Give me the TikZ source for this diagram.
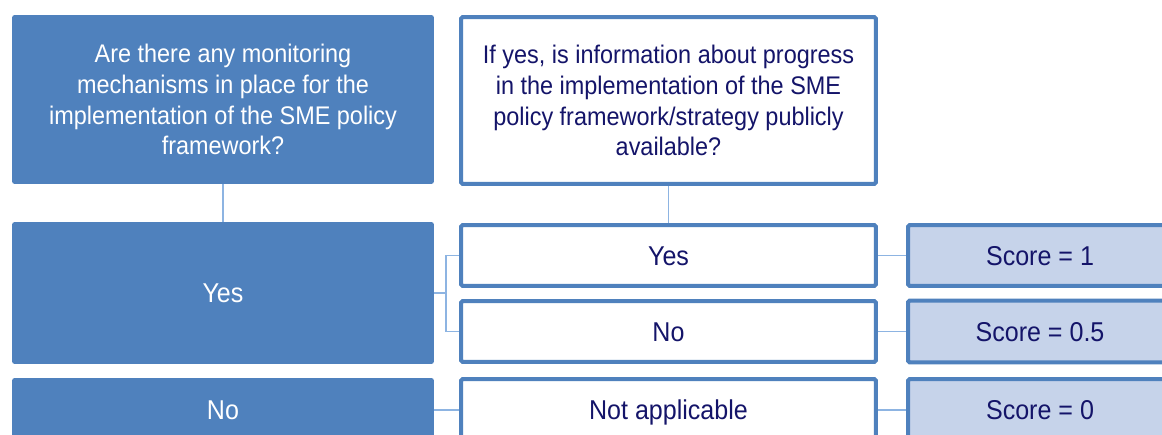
\documentclass[tikz,border=0pt]{standalone}
\usepackage{fontspec}
\setmainfont{Liberation Sans}[FakeStretch=0.92]
\definecolor{oecdblue}{RGB}{79,129,189}
\definecolor{linkblue}{RGB}{141,180,226}
\definecolor{scorefill}{RGB}{198,211,234}
\definecolor{navytext}{RGB}{20,20,105}
\begin{document}
\begin{tikzpicture}[x=0.02cm, y=-0.02cm,
      every node/.style={align=center, rectangle, inner sep=0pt},
      bluebox/.style={fill=oecdblue, text=white, rounded corners=1.5pt, outer sep=0pt, minimum width=8.44cm},
      openbox/.style={draw=oecdblue, line width=0.08cm, fill=white, text=navytext, rounded corners=1pt, minimum width=8.30cm},
      scorebox/.style={openbox, fill=scorefill, minimum width=5.28cm},
      qfont/.style={font=\fontsize{14.5}{17.6}\selectfont},
      afont/.style={font=\fontsize{15.5}{18}\selectfont, text height=11.1pt, text depth=0pt},
      link/.style={draw=linkblue, line width=0.03cm}]
  \clip (0,0) rectangle (1162,435);
  \fill[white] (0,0) rectangle (1162,435);
  \node[bluebox, qfont, minimum height=3.38cm] (qleft) at (223,99.5)
    {Are there any monitoring\\mechanisms in place for the\\implementation of the SME policy\\framework?};
  \node[openbox, qfont, minimum height=3.34cm] (qright) at (668.5,100.5)
    {If yes, is information about progress\\in the implementation of the SME\\policy framework/strategy publicly\\available?};
  \node[bluebox, afont, minimum height=2.84cm] (lyes) at (223,293) {Yes};
  \node[bluebox, afont, minimum height=1.28cm] (lno) at (223,410) {No};
  \node[openbox, afont, minimum height=1.22cm] (myes) at (668.5,255.5) {Yes};
  \node[openbox, afont, minimum height=1.22cm] (mno) at (668.5,331.5) {No};
  \node[openbox, afont, minimum height=1.24cm] (mna) at (668.5,410) {Not applicable};
  \node[scorebox, afont, minimum height=1.22cm] (sone) at (1040,255.5) {Score = 1};
  \node[scorebox, afont, minimum height=1.24cm] (shalf) at (1040,331.5) {Score = 0.5};
  \node[scorebox, afont, minimum height=1.24cm] (snull) at (1040,410) {Score = 0};
  \draw[link] (qleft) -- (lyes);
  \draw[link] (qright) -- (myes);
  \draw[link] (lyes.east) -- ++(12,0) coordinate (fork) |- (myes.west);
  \draw[link] (fork) |- (mno.west);
  \draw[link] (lno) -- (mna);
  \draw[link] (myes) -- (sone);
  \draw[link] (mno) -- (shalf);
  \draw[link] (mna) -- (snull);
\end{tikzpicture}
\end{document}
